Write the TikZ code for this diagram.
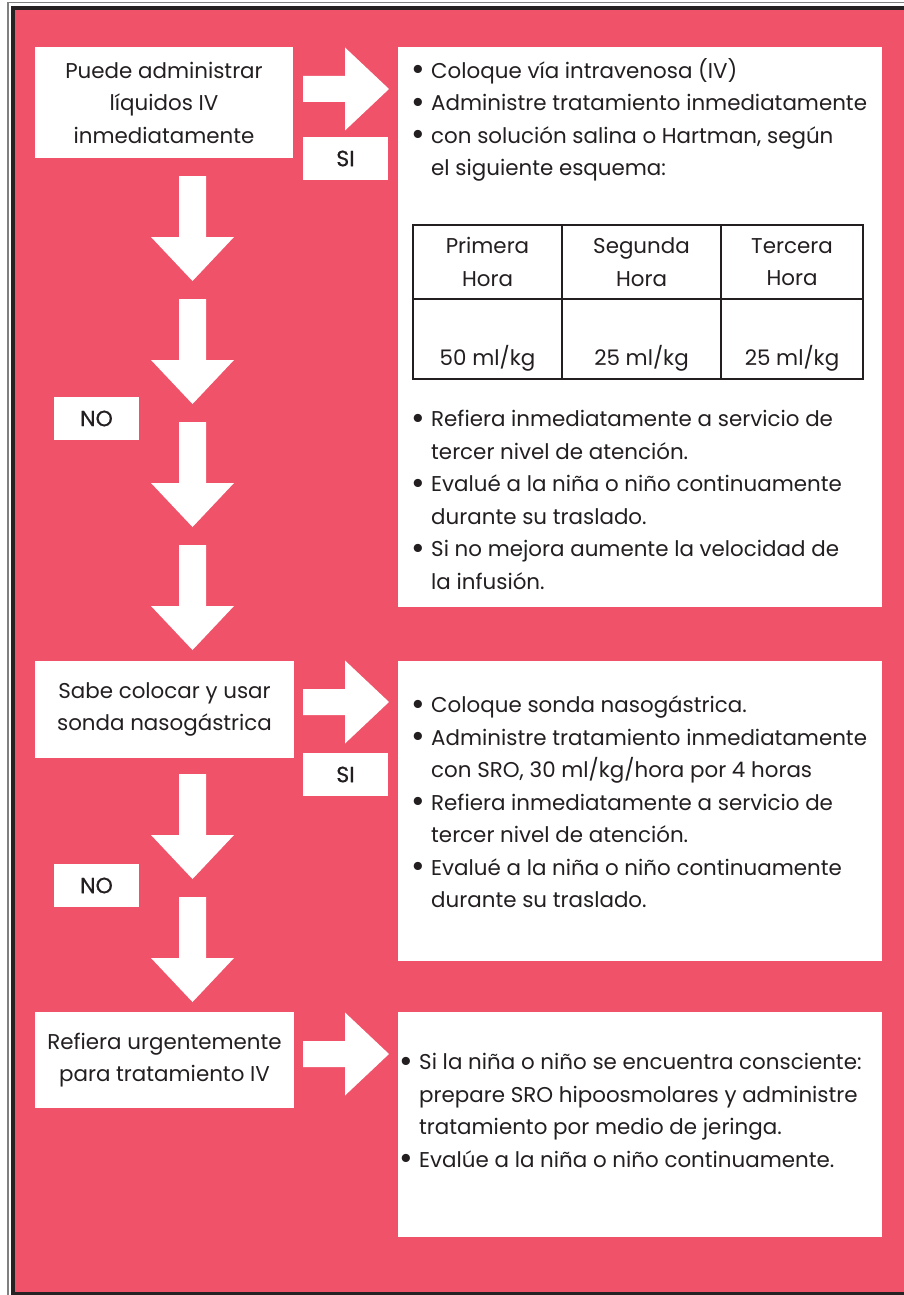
\documentclass[tikz,border=0pt]{standalone}
\usepackage{fontspec}
\setmainfont{Poppins}
\newfontfamily\medio{Poppins}[FakeBold=0.6]
\usetikzlibrary{positioning}
\definecolor{fondo}{RGB}{239,82,105}
\definecolor{tinta}{RGB}{35,31,32}
\definecolor{marco}{RGB}{38,34,36}
\newcommand\letra{\fontsize{21.4}{32.5}\selectfont}
\newcommand\letrachica{\medio\fontsize{22}{24}\selectfont}
\newcommand\vineta{\makebox[20pt][l]{\raisebox{-2.5pt}{\scalebox{1.55}{\textbullet}}}}
\newcommand\sangria{\hspace*{20pt}}

\tikzset{
  flecha abajo/.pic={\fill[white] (-13.5,0) -- (13.5,0) -- (13.5,61) -- (41.5,61)
      -- (0,105) -- (-41.5,61) -- (-13.5,61) -- cycle;},
  flecha der/.pic={\fill[white] (0,-13) -- (42,-13) -- (42,-41.5) -- (86,0)
      -- (42,41.5) -- (42,13) -- (0,13) -- cycle;}
}

\begin{document}
\begin{tikzpicture}[x=1pt, y=-1pt,
    caja/.style={fill=white, inner sep=0pt, align=center, font=\letra, text=tinta},
    panel/.style={fill=white, inner sep=0pt, minimum width=484pt},
    etiqueta/.style={fill=white, inner sep=0pt, minimum width=85pt, minimum height=43pt,
        font=\letrachica, text=tinta},
    lista/.style={inner sep=0pt, align=left, anchor=north west, font=\letra, text=tinta},
    celda/.style={draw=tinta, line width=2pt, inner sep=0pt, align=center,
        font=\letra, text=tinta}
]
\useasboundingbox (0,0) rectangle (904,1295);
% marco
\draw[gray, line width=1.2pt] (8,1300) -- (8,2.8) -- (910,2.8);
\filldraw[fill=fondo, draw=marco, line width=4pt] (12.5,8) rectangle (925,1293.5);

% preguntas
\node[caja, minimum width=258pt, minimum height=111pt] (liquidos) at (164,102.5)
  {Puede administrar\\líquidos IV\\inmediatamente};
\node[caja, minimum width=259pt, minimum height=97pt] (sonda) at (164.5,709.5)
  {Sabe colocar y usar\\sonda nasogástrica};
\node[caja, minimum width=259pt, minimum height=96pt] (refiera) at (164.5,1060)
  {Refiera urgentemente\\para tratamiento IV};

% paneles
\node[panel, minimum height=560pt] (panelIV) at (640,327) {};
\node[panel, minimum height=300pt] (panelSNG) at (640,811) {};
\node[panel, minimum height=225pt] (panelSRO) at (640,1124.5) {};

% flechas
\pic (der1) at (303,89) {flecha der};
\pic (der2) at (303,702) {flecha der};
\pic (der3) at (303,1054) {flecha der};
\foreach \y in {176,299,422,545,774,897}
  \pic at (192.5,\y) {flecha abajo};

\node[etiqueta] (si1) at (345.5,158.5) {SI};
\node[etiqueta] (si2) at (345.5,774.5) {SI};
\node[etiqueta] (no1) at (96.5,418.5) {NO};
\node[etiqueta] (no2) at (96.5,885.5) {NO};

% texto de los paneles
\node[lista] (txtIV) at (411,58)
  {\vineta Coloque vía intravenosa (IV)\\
   \vineta Administre tratamiento inmediatamente\\
   \vineta con solución salina o Hartman, según\\
   \sangria el siguiente esquema:};
\node[lista] (txtIV2) at (411,410)
  {\vineta Refiera inmediatamente a servicio de\\
   \sangria tercer nivel de atención.\\
   \vineta Evalué a la niña o niño continuamente\\
   \sangria durante su traslado.\\
   \vineta Si no mejora aumente la velocidad de\\
   \sangria la infusión.};
\node[lista] (txtSNG) at (411,696)
  {\vineta Coloque sonda nasogástrica.\\
   \vineta Administre tratamiento inmediatamente\\
   \sangria con SRO, 30 ml/kg/hora por 4 horas\\
   \vineta Refiera inmediatamente a servicio de\\
   \sangria tercer nivel de atención.\\
   \vineta Evalué a la niña o niño continuamente\\
   \sangria durante su traslado.};
\node[lista] (txtSRO) at (399,1053)
  {\vineta Si la niña o niño se encuentra consciente:\\
   \sangria prepare SRO hipoosmolares y administre\\
   \sangria tratamiento por medio de jeringa.\\
   \vineta Evalúe a la niña o niño continuamente.};

% tabla
\node[celda, minimum width=149pt, minimum height=74pt] (h1) at (487.5,262) {Primera\\Hora};
\node[celda, minimum width=159pt, minimum height=74pt] (h2) at (641.5,262) {Segunda\\Hora};
\node[celda, minimum width=142pt, minimum height=74pt] (h3) at (792,262) {Tercera\\Hora};
\node[celda, minimum width=149pt, minimum height=80pt] (v1) at (487.5,339)
  {\raisebox{-26pt}[0pt][0pt]{50 ml/kg}};
\node[celda, minimum width=159pt, minimum height=80pt] (v2) at (641.5,339)
  {\raisebox{-26pt}[0pt][0pt]{25 ml/kg}};
\node[celda, minimum width=142pt, minimum height=80pt] (v3) at (792,339)
  {\raisebox{-26pt}[0pt][0pt]{25 ml/kg}};
\end{tikzpicture}
\end{document}
